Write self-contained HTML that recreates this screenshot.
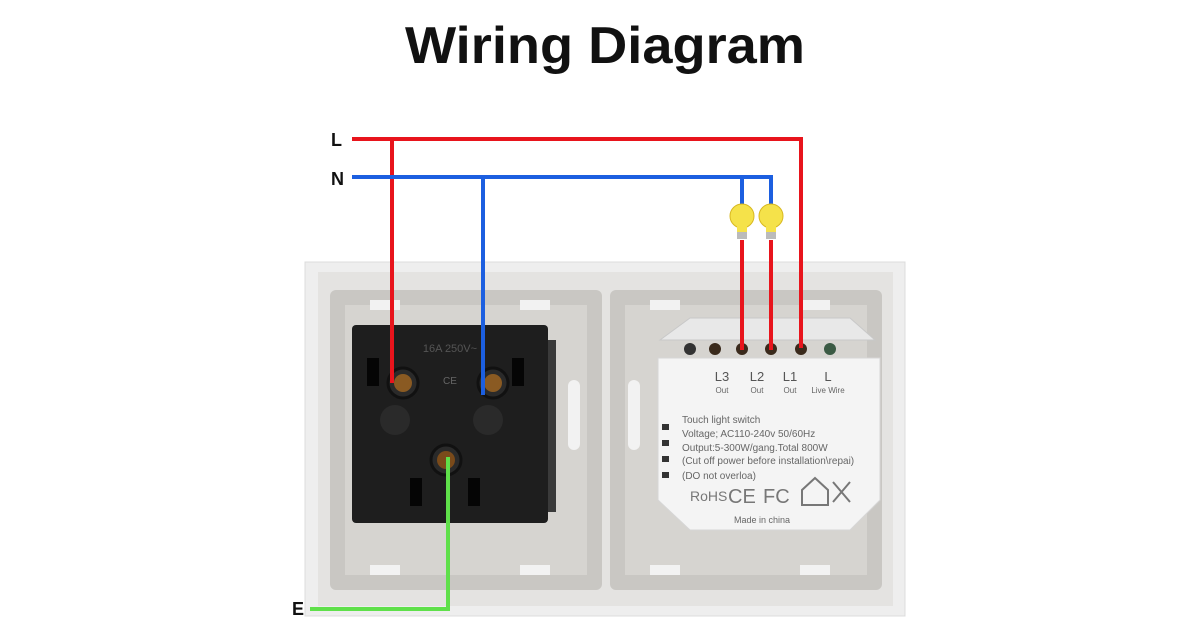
<!DOCTYPE html>
<html><head><meta charset="utf-8"><style>
html,body{margin:0;padding:0;background:#fff;}
svg{display:block;}
text{font-family:"Liberation Sans",sans-serif;}
</style></head><body>
<svg width="1200" height="630" viewBox="0 0 1200 630" xmlns="http://www.w3.org/2000/svg">
<rect width="1200" height="630" fill="#fff"/>
<text x="405" y="63" textLength="400" lengthAdjust="spacingAndGlyphs" font-size="52" font-weight="bold" fill="#111">Wiring Diagram</text>
<!-- plate -->
<rect x="305" y="262" width="600" height="354" fill="#eeeeee" stroke="#dcdcdc"/>
<rect x="318" y="272" width="575" height="334" fill="#e4e3e1"/>
<!-- frames -->
<rect x="330" y="290" width="272" height="300" rx="6" fill="#c9c7c3"/>
<rect x="610" y="290" width="272" height="300" rx="6" fill="#c9c7c3"/>
<rect x="345" y="305" width="242" height="270" fill="#d6d4d0"/>
<rect x="625" y="305" width="242" height="270" fill="#d6d4d0"/>
<g fill="#f2f2f2">
<rect x="370" y="300" width="30" height="10"/><rect x="520" y="300" width="30" height="10"/>
<rect x="650" y="300" width="30" height="10"/><rect x="800" y="300" width="30" height="10"/>
<rect x="370" y="565" width="30" height="10"/><rect x="520" y="565" width="30" height="10"/>
<rect x="650" y="565" width="30" height="10"/><rect x="800" y="565" width="30" height="10"/>
<rect x="568" y="380" width="12" height="70" rx="6"/><rect x="628" y="380" width="12" height="70" rx="6"/>
</g>
<!-- socket -->
<rect x="352" y="325" width="196" height="198" rx="4" fill="#1e1e1e"/>
<rect x="548" y="340" width="8" height="172" fill="#3a3a3a"/>
<g fill="#050505">
<rect x="367" y="358" width="12" height="28"/><rect x="512" y="358" width="12" height="28"/>
<rect x="410" y="478" width="12" height="28"/><rect x="468" y="478" width="12" height="28"/>
</g>
<text x="450" y="352" text-anchor="middle" font-size="11" fill="#555">16A 250V~</text>
<text x="450" y="384" text-anchor="middle" font-size="10" fill="#666">CE</text>
<circle cx="403" cy="383" r="15" fill="#2a2a2a" stroke="#111" stroke-width="3"/>
<circle cx="403" cy="383" r="9" fill="#8a5a22"/>
<circle cx="493" cy="383" r="15" fill="#2a2a2a" stroke="#111" stroke-width="3"/>
<circle cx="493" cy="383" r="9" fill="#8a5a22"/>
<circle cx="395" cy="420" r="15" fill="#2a2a2a"/><circle cx="488" cy="420" r="15" fill="#2a2a2a"/>
<circle cx="446" cy="460" r="15" fill="#2a2a2a" stroke="#111" stroke-width="3"/>
<circle cx="446" cy="460" r="9" fill="#7a4a1a"/>
<!-- switch module -->
<path d="M660 340 L690 318 L850 318 L875 340 Z" fill="#e8e8e8" stroke="#c8c8c8"/>
<g fill="#3a2a1c"><circle cx="690" cy="349" r="6" fill="#333"/><circle cx="715" cy="349" r="6"/><circle cx="742" cy="349" r="6"/><circle cx="771" cy="349" r="6"/><circle cx="801" cy="349" r="6"/><circle cx="830" cy="349" r="6" fill="#3b5a44"/></g>
<path d="M658 358 L880 358 L880 500 L850 530 L690 530 L658 500 Z" fill="#f4f4f4" stroke="#d6d6d6"/>
<g font-family="Liberation Serif,serif" fill="#555" font-size="13" text-anchor="middle">
<text x="722" y="381">L3</text><text x="757" y="381">L2</text><text x="790" y="381">L1</text><text x="828" y="381">L</text></g>
<g fill="#666" font-size="8" text-anchor="middle">
<text x="722" y="393">Out</text><text x="757" y="393">Out</text><text x="790" y="393">Out</text><text x="828" y="393">Live Wire</text></g>
<g fill="#666" font-size="10">
<text x="682" y="423">Touch light switch</text>
<text x="682" y="437">Voltage; AC110-240v 50/60Hz</text>
<text x="682" y="451">Output:5-300W/gang.Total 800W</text>
<text x="682" y="464">(Cut off power before installation\repai)</text>
<text x="682" y="479">(DO not overloa)</text>
<text x="734" y="523" font-size="9">Made in china</text>
</g>
<text x="690" y="501" font-size="14" fill="#777">RoHS</text>
<text x="728" y="503" font-size="20" fill="#777">CE</text>
<text x="763" y="503" font-size="20" fill="#777">FC</text>
<path d="M802 505 V490 L815 478 L828 490 V505 Z" fill="none" stroke="#777" stroke-width="2"/>
<path d="M833 482 L850 502 M850 482 L833 502" stroke="#777" stroke-width="2"/>
<g fill="#333"><rect x="662" y="440" width="7" height="6"/><rect x="662" y="456" width="7" height="6"/><rect x="662" y="472" width="7" height="6"/><rect x="662" y="424" width="7" height="6"/></g>
<!-- wires -->
<g fill="none" stroke-width="4" stroke-linejoin="miter">
<polyline points="352,139 801,139 801,348" stroke="#e8141c"/>
<line x1="392" y1="139" x2="392" y2="383" stroke="#e8141c"/>
<polyline points="352,177 771,177 771,205" stroke="#1c5fe0"/>
<line x1="483" y1="177" x2="483" y2="395" stroke="#1c5fe0"/>
<line x1="742" y1="177" x2="742" y2="205" stroke="#1c5fe0"/>
<line x1="742" y1="240" x2="742" y2="350" stroke="#e8141c"/>
<line x1="771" y1="240" x2="771" y2="350" stroke="#e8141c"/>
<polyline points="448,457 448,609 310,609" stroke="#5fe04a"/>
</g>
<!-- bulbs -->
<g>
<circle cx="742" cy="216" r="12" fill="#f5e24a" stroke="#d8b820"/>
<rect x="737" y="226" width="10" height="10" fill="#f5e24a"/>
<rect x="737" y="232" width="10" height="7" fill="#bbb"/>
<circle cx="771" cy="216" r="12" fill="#f5e24a" stroke="#d8b820"/>
<rect x="766" y="226" width="10" height="10" fill="#f5e24a"/>
<rect x="766" y="232" width="10" height="7" fill="#bbb"/>
</g>
<g font-size="18" font-weight="bold" fill="#111">
<text x="331" y="146">L</text><text x="331" y="185">N</text><text x="292" y="615">E</text></g>
</svg>
</body></html>
